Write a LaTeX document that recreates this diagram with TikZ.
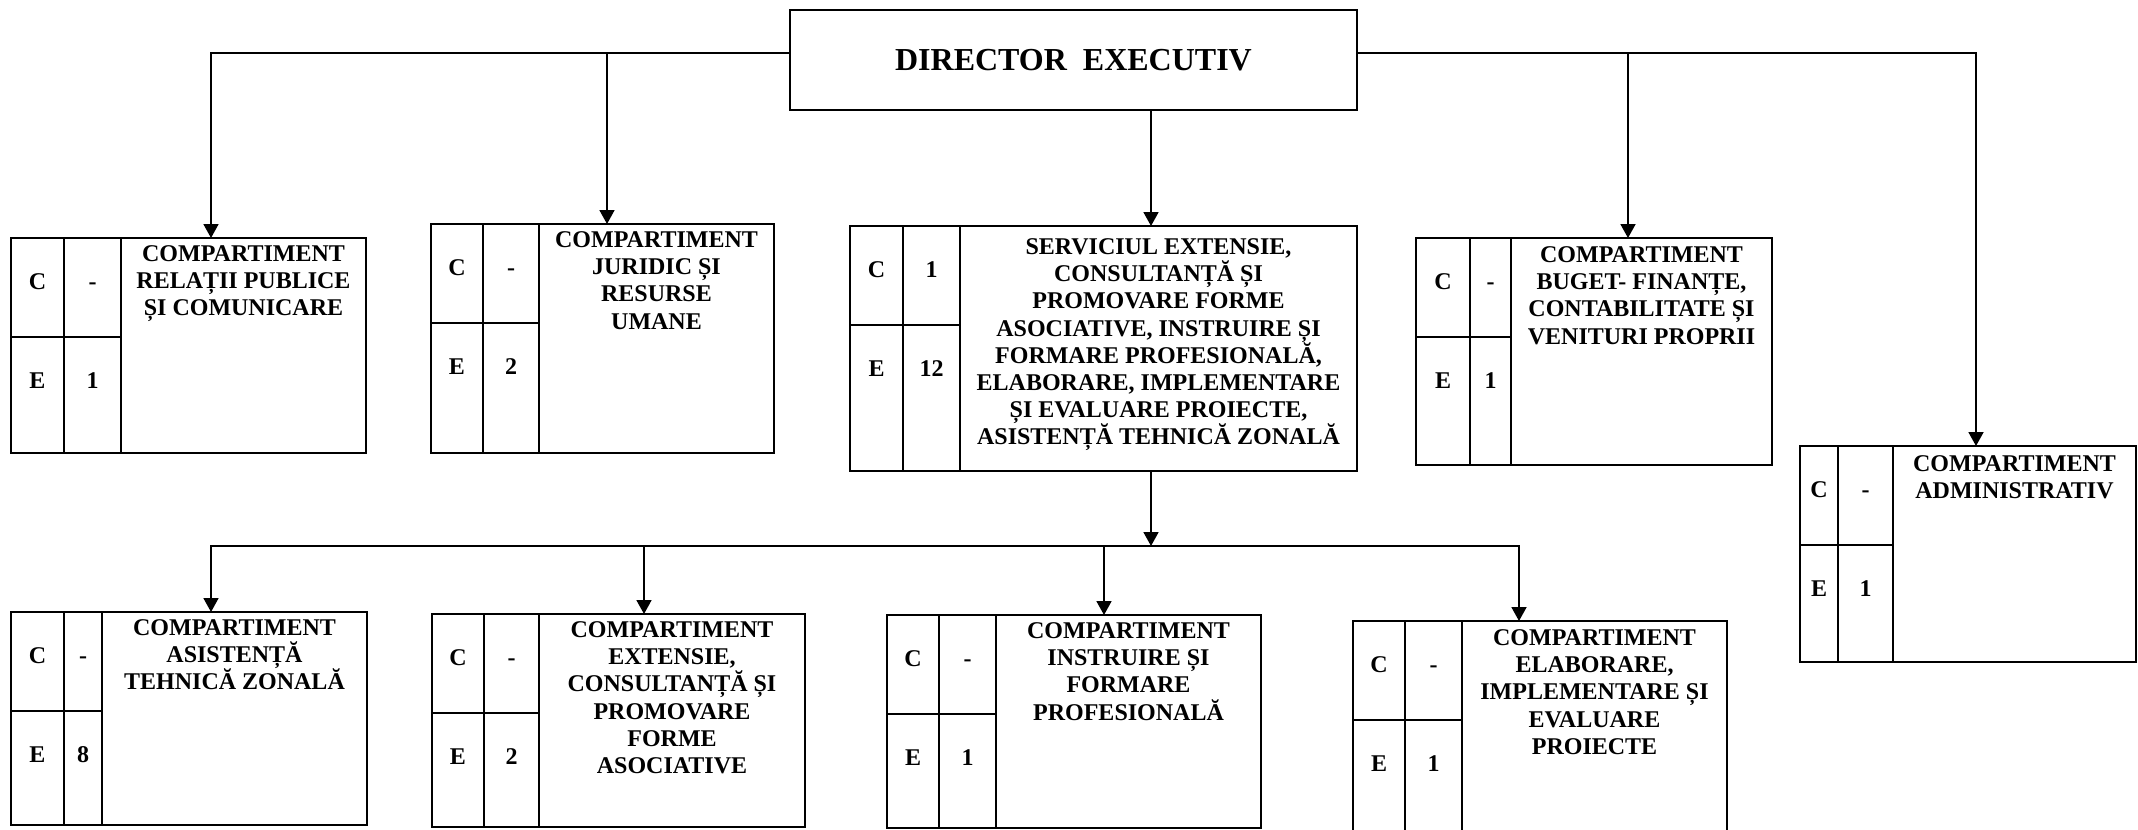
\documentclass[tikz,border=0pt]{standalone}
\usepackage{fontspec}
\setmainfont{Liberation Serif}
\usetikzlibrary{arrows.meta}
\tikzset{
  cline/.style={draw, line width=1pt},
  boxframe/.style={draw, line width=1pt, inner sep=0pt, outer sep=0pt, anchor=north west},
  conn/.style={line width=0.9pt},
  arr/.style={conn, -{Triangle[length=7pt,width=7.5pt]}},
  cell/.style={font=\bfseries\fontsize{12}{13.6}\selectfont, inner sep=0pt, anchor=base},
  title/.style={font=\bfseries\fontsize{12}{13.6}\selectfont, align=center, inner sep=0pt, anchor=north},
  dirbox/.style={draw, line width=1pt, inner sep=0pt, outer sep=0pt, anchor=north west,
    font=\bfseries\fontsize{16}{19}\selectfont}
}
% name, left, top, right, bottom, col1, col2, C value, E value
\newcommand\orgbox[9]{%
  \node[boxframe, minimum width={(#4-#2)*0.5pt}, minimum height={(#5-#3)*0.5pt}] (#1) at (#2,#3) {};
  \draw[cline] (#6,#3) -- (#6,#5);
  \draw[cline] (#7,#3) -- (#7,#5);
  \draw[cline] (#2,#3+99) -- (#7,#3+99);
  \node[cell] (#1Cl) at ({(#2+#6)/2},#3+51) {C};
  \node[cell] (#1Cv) at ({(#6+#7)/2},#3+51) {#8};
  \node[cell] (#1El) at ({(#2+#6)/2},#3+150) {E};
  \node[cell] (#1Ev) at ({(#6+#7)/2},#3+150) {#9};
}
\newcommand\ttl{\rule{0pt}{10pt}}
\begin{document}
\begin{tikzpicture}[x=0.5pt,y=-0.5pt]
\fill[white] (0,0) rectangle (2138,830);
\useasboundingbox (0,0) rectangle (2138,830);

% director
\node[dirbox, minimum width=283.5pt, minimum height=50pt] (dir) at (790,10) {DIRECTOR~~EXECUTIV};

% boxes
\orgbox{b1}{11}{238}{366}{453}{64}{121}{-}{1}
\orgbox{b2}{431}{224}{774}{453}{483}{539}{-}{2}
\orgbox{b3}{850}{226}{1357}{471}{903}{960}{1}{12}
\orgbox{b4}{1416}{238}{1772}{465}{1470}{1511}{-}{1}
\orgbox{b5}{1800}{446}{2136}{662}{1838}{1893}{-}{1}
\orgbox{b6}{11}{612}{367}{825}{64}{102}{-}{8}
\orgbox{b7}{432}{614}{805}{827}{484}{539}{-}{2}
\orgbox{b8}{887}{615}{1261}{828}{939}{996}{-}{1}
\orgbox{b9}{1353}{621}{1727}{836}{1405}{1462}{-}{1}

% titles
\node[title] (b1t) at (243.5,241) {\ttl COMPARTIMENT\\RELAȚII PUBLICE\\ȘI COMUNICARE};
\node[title] (b2t) at (656.5,227) {\ttl COMPARTIMENT\\JURIDIC ȘI\\RESURSE\\UMANE};
\node[title] (b3t) at (1158.5,234) {\ttl SERVICIUL EXTENSIE,\\CONSULTANȚĂ ȘI\\PROMOVARE FORME\\ASOCIATIVE, INSTRUIRE ȘI\\FORMARE PROFESIONALĂ,\\ELABORARE, IMPLEMENTARE\\ȘI EVALUARE PROIECTE,\\ASISTENȚĂ TEHNICĂ ZONALĂ};
\node[title] (b4t) at (1641.5,242) {\ttl COMPARTIMENT\\BUGET- FINANȚE,\\CONTABILITATE ȘI\\VENITURI PROPRII};
\node[title] (b5t) at (2014.5,451) {\ttl COMPARTIMENT\\ADMINISTRATIV};
\node[title] (b6t) at (234.5,615) {\ttl COMPARTIMENT\\ASISTENȚĂ\\TEHNICĂ ZONALĂ};
\node[title] (b7t) at (672,617) {\ttl COMPARTIMENT\\EXTENSIE,\\CONSULTANȚĂ ȘI\\PROMOVARE\\FORME\\ASOCIATIVE};
\node[title] (b8t) at (1128.5,618) {\ttl COMPARTIMENT\\INSTRUIRE ȘI\\FORMARE\\PROFESIONALĂ};
\node[title] (b9t) at (1594.5,625) {\ttl COMPARTIMENT\\ELABORARE,\\IMPLEMENTARE ȘI\\EVALUARE\\PROIECTE};

% connectors
\coordinate (bus1) at (0,53);
\coordinate (bus2) at (0,546);
\draw[arr] (dir.west |- bus1) -| (211,0 |- b1.north);
\draw[arr] (607,0 |- bus1) -- (607,0 |- b2.north);
\draw[arr] (dir.east |- bus1) -| (1976,0 |- b5.north);
\draw[arr] (1628,0 |- bus1) -- (1628,0 |- b4.north);
\draw[arr] (1151,0 |- dir.south) -- (1151,0 |- b3.north);
\draw[arr] (1151,0 |- b3.south) -- (1151,0 |- bus2);
\draw[arr] (1151,0 |- bus2) -| (211,0 |- b6.north);
\draw[arr] (1151,0 |- bus2) -| (1519,0 |- b9.north);
\draw[arr] (644,0 |- bus2) -- (644,0 |- b7.north);
\draw[arr] (1104,0 |- bus2) -- (1104,0 |- b8.north);
\end{tikzpicture}
\end{document}
